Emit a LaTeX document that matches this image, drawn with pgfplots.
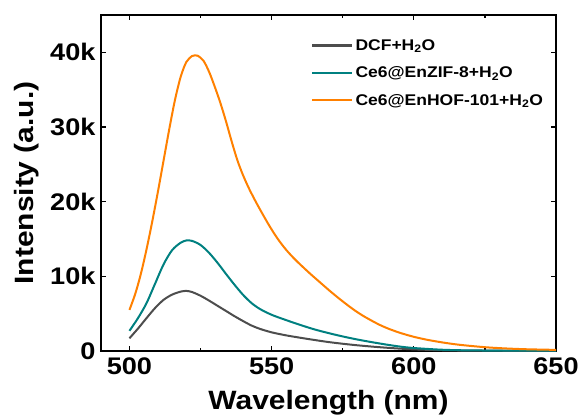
\documentclass[border=0pt]{standalone}
\usepackage{fontspec}
\setmainfont{Liberation Sans}
\newfontfamily\widefont{Liberation Sans}[FakeStretch=1.13]
\usepackage{pgfplots}
\pgfplotsset{compat=1.18}
\definecolor{cgray}{RGB}{77,77,77}
\definecolor{cteal}{RGB}{0,128,128}
\definecolor{corange}{RGB}{255,128,0}
\begin{document}
\begin{tikzpicture}
\begin{axis}[
  scale only axis, width=455pt, height=336pt,
  xmin=490, xmax=650, ymin=0, ymax=45000,
  xtick={500,550,600,650}, minor xtick={525,575,625},
  ytick={0,10000,20000,30000,40000}, yticklabels={0,10k,20k,30k,40k},
  scaled y ticks=false,
  tick align=inside, major tick length=5pt, minor tick length=3pt,
  axis line style={line width=1.6pt}, tick style={line width=1.2pt, black},
  /pgf/number format/assume math mode=true,
  ticklabel style={font=\widefont\fontsize{24}{24}\selectfont\bfseries},
  xticklabel style={yshift=-3pt},
  yticklabel style={xshift=-2pt},
  xlabel={Wavelength (nm)}, ylabel={Intensity (a.u.)},
  label style={font=\widefont\fontsize{26.5}{26.5}\selectfont\bfseries},
  xlabel style={at={(axis description cs:0.5,-0.155)}, anchor=center},
  ylabel style={at={(axis description cs:-0.163,0.5)}, anchor=center},
  legend style={draw=none, fill=none, at={(0.462,0.94)}, anchor=north west,
    font=\widefont\fontsize{15.5}{15.5}\selectfont\bfseries, row sep=11pt, inner xsep=0pt},
  legend cell align=left,
  legend image code/.code={\draw[#1, line width=2.1pt] (0pt,0pt) -- (40pt,0pt);},
]
\addplot[cgray, line width=2pt, smooth] coordinates {
(500,1700)(503,3000)(506,4400)(509,5750)(512,6850)(515,7550)(518,7950)(520,8050)
(522,7900)(525,7400)(528,6750)(531,6050)(534,5350)(537,4650)(540,4000)(543,3400)
(546,2950)(550,2500)(555,2100)(560,1780)(565,1480)(570,1200)(575,970)(580,770)
(585,600)(590,450)(595,320)(600,220)(610,100)(620,50)(635,30)(650,20)};
\addlegendentry{DCF+H\textsubscript{2}O}
\addplot[cteal, line width=2pt, smooth] coordinates {
(500,2700)(503,4400)(506,6400)(509,9000)(512,11600)(515,13500)(518,14500)(520,14800)
(522,14750)(525,14200)(528,13150)(531,11800)(534,10300)(537,8850)(540,7500)(543,6400)
(546,5600)(550,4850)(555,4150)(560,3500)(565,2900)(570,2400)(575,1950)(580,1550)
(585,1200)(590,880)(595,600)(600,400)(610,170)(620,80)(635,50)(650,40)};
\addlegendentry{Ce6@EnZIF-8+H\textsubscript{2}O}
\addplot[corange, line width=2pt, smooth] coordinates {
(500,5500)(502,7600)(504,10300)(506,13600)(508,17300)(510,21300)(512,25500)(514,29700)
(516,33600)(518,36700)(520,38700)(522,39500)(523,39600)(524,39550)(526,38900)(528,37400)
(530,35400)(532,33200)(534,30700)(536,28000)(538,25500)(540,23500)(542,21800)(544,20300)
(546,18900)(549,16900)(552,15100)(555,13600)(558,12350)(561,11250)(564,10200)(567,9200)
(570,8200)(573,7250)(576,6350)(579,5500)(582,4750)(585,4100)(588,3500)(591,3000)
(595,2450)(600,1900)(605,1480)(610,1150)(615,880)(620,680)(626,480)(633,330)
(640,230)(650,150)};
\addlegendentry{Ce6@EnHOF-101+H\textsubscript{2}O}
\end{axis}
\pgfresetboundingbox
\path (-101pt,-67pt) rectangle (483pt,351pt);
\end{tikzpicture}
\end{document}
